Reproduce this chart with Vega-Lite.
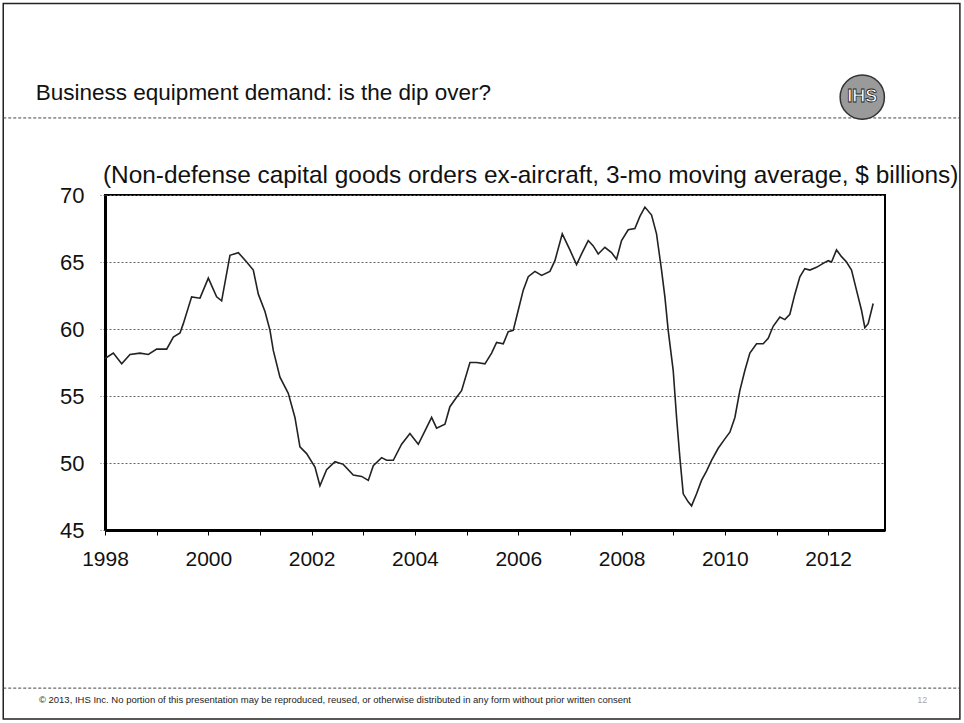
{
  "$schema": "https://vega.github.io/schema/vega-lite/v6.json",
  "width": 780,
  "height": 335,
  "autosize": {"type": "none"},
  "padding": {"left": 105, "top": 195, "right": 79, "bottom": 193},
  "background": "white",
  "config": {
    "view": {"stroke": "#000", "strokeWidth": 2},
    "font": "Liberation Sans"
  },
  "layer": [
    {
      "data": {"values": [{"part": "slide"}]},
      "mark": {"type": "rect", "fill": null, "stroke": "#222", "strokeWidth": 1.5},
      "encoding": {
        "x": {"datum": 1996.03, "type": "quantitative", "scale": {"domain": [1998, 2013.1], "nice": false, "zero": false}},
        "x2": {"datum": 2014.55},
        "y": {"datum": 84.3, "type": "quantitative"},
        "y2": {"datum": 30.9}
      }
    },
    {
      "data": {"values": [{"line": "header", "y": 75.75}, {"line": "footer", "y": 33.2}]},
      "mark": {"type": "rule", "stroke": "#444", "strokeWidth": 1, "strokeDash": [3, 2]},
      "encoding": {
        "x": {"datum": 1996.03, "type": "quantitative"},
        "x2": {"datum": 2014.55},
        "y": {"field": "y", "type": "quantitative"}
      }
    },
    {
      "data": {"values": [{"label": "Business equipment demand: is the dip over?"}]},
      "mark": {"type": "text", "align": "left", "baseline": "alphabetic", "font": "Liberation Sans", "fontSize": 22.5, "color": "#111"},
      "encoding": {
        "x": {"datum": 1996.66, "type": "quantitative"},
        "y": {"datum": 77.1, "type": "quantitative"},
        "text": {"field": "label"}
      }
    },
    {
      "data": {"values": [{"label": "(Non-defense capital goods orders ex-aircraft, 3-mo moving average, $ billions)"}]},
      "mark": {"type": "text", "align": "left", "baseline": "alphabetic", "font": "Liberation Sans", "fontSize": 24.4, "color": "#111"},
      "encoding": {
        "x": {"datum": 1997.96, "type": "quantitative"},
        "y": {"datum": 70.9, "type": "quantitative"},
        "text": {"field": "label"}
      }
    },
    {
      "data": {"values": [{"logo": "IHS"}]},
      "mark": {"type": "point", "shape": "circle", "filled": true, "size": 1960, "fill": "#9a9a9a", "stroke": "#333", "strokeWidth": 1.5, "opacity": 1},
      "encoding": {
        "x": {"datum": 2012.66, "type": "quantitative"},
        "y": {"datum": 77.3, "type": "quantitative"}
      }
    },
    {
      "data": {"values": [{"logo": "IHS"}]},
      "mark": {"type": "text", "align": "center", "baseline": "middle", "font": "Liberation Sans", "fontSize": 18, "fontWeight": "bold", "fill": "white", "stroke": "#222", "strokeWidth": 0.8},
      "encoding": {
        "x": {"datum": 2012.66, "type": "quantitative"},
        "y": {"datum": 77.3, "type": "quantitative"},
        "text": {"field": "logo"}
      }
    },
    {
      "data": {"values": [{"label": "© 2013, IHS Inc. No portion of this presentation may be reproduced, reused, or otherwise distributed in any form without prior written consent"}]},
      "mark": {"type": "text", "align": "left", "baseline": "middle", "fontSize": 9.5, "color": "#222"},
      "encoding": {
        "x": {"datum": 1996.72, "type": "quantitative"},
        "y": {"datum": 32.3, "type": "quantitative"},
        "text": {"field": "label"}
      }
    },
    {
      "data": {"values": [{"label": "12"}]},
      "mark": {"type": "text", "align": "center", "baseline": "middle", "fontSize": 9, "color": "#aaa"},
      "encoding": {
        "x": {"datum": 2013.82, "type": "quantitative"},
        "y": {"datum": 32.3, "type": "quantitative"},
        "text": {"field": "label"}
      }
    },
    {
      "data": {"values": [
        {"t": 1998.000, "v": 57.8}, {"t": 1998.161, "v": 58.2}, {"t": 1998.323, "v": 57.4}, {"t": 1998.484, "v": 58.1},
        {"t": 1998.677, "v": 58.2}, {"t": 1998.839, "v": 58.1}, {"t": 1999.000, "v": 58.5}, {"t": 1999.194, "v": 58.5},
        {"t": 1999.323, "v": 59.4}, {"t": 1999.452, "v": 59.7}, {"t": 1999.516, "v": 60.4}, {"t": 1999.677, "v": 62.4},
        {"t": 1999.839, "v": 62.3}, {"t": 2000.000, "v": 63.8}, {"t": 2000.161, "v": 62.4}, {"t": 2000.258, "v": 62.1},
        {"t": 2000.419, "v": 65.5}, {"t": 2000.581, "v": 65.7}, {"t": 2000.742, "v": 65.0}, {"t": 2000.871, "v": 64.4},
        {"t": 2000.968, "v": 62.6}, {"t": 2001.097, "v": 61.3}, {"t": 2001.194, "v": 59.9}, {"t": 2001.258, "v": 58.4},
        {"t": 2001.387, "v": 56.4}, {"t": 2001.548, "v": 55.2}, {"t": 2001.677, "v": 53.4}, {"t": 2001.774, "v": 51.2},
        {"t": 2001.903, "v": 50.7}, {"t": 2002.065, "v": 49.7}, {"t": 2002.161, "v": 48.3}, {"t": 2002.290, "v": 49.5},
        {"t": 2002.452, "v": 50.1}, {"t": 2002.613, "v": 49.9}, {"t": 2002.806, "v": 49.1}, {"t": 2002.968, "v": 49.0},
        {"t": 2003.097, "v": 48.7}, {"t": 2003.194, "v": 49.8}, {"t": 2003.355, "v": 50.4}, {"t": 2003.452, "v": 50.2},
        {"t": 2003.581, "v": 50.2}, {"t": 2003.742, "v": 51.4}, {"t": 2003.903, "v": 52.2}, {"t": 2004.065, "v": 51.4},
        {"t": 2004.194, "v": 52.4}, {"t": 2004.323, "v": 53.4}, {"t": 2004.419, "v": 52.6}, {"t": 2004.581, "v": 52.9},
        {"t": 2004.677, "v": 54.2}, {"t": 2004.806, "v": 54.9}, {"t": 2004.903, "v": 55.4}, {"t": 2005.065, "v": 57.5},
        {"t": 2005.194, "v": 57.5}, {"t": 2005.355, "v": 57.4}, {"t": 2005.484, "v": 58.2}, {"t": 2005.581, "v": 59.0},
        {"t": 2005.710, "v": 58.9}, {"t": 2005.806, "v": 59.8}, {"t": 2005.903, "v": 59.9}, {"t": 2006.000, "v": 61.4},
        {"t": 2006.097, "v": 62.9}, {"t": 2006.194, "v": 63.9}, {"t": 2006.323, "v": 64.3}, {"t": 2006.452, "v": 64.0},
        {"t": 2006.613, "v": 64.3}, {"t": 2006.710, "v": 65.1}, {"t": 2006.852, "v": 67.1}, {"t": 2007.000, "v": 65.9},
        {"t": 2007.129, "v": 64.8}, {"t": 2007.226, "v": 65.6}, {"t": 2007.355, "v": 66.6}, {"t": 2007.452, "v": 66.2},
        {"t": 2007.548, "v": 65.6}, {"t": 2007.677, "v": 66.1}, {"t": 2007.806, "v": 65.7}, {"t": 2007.903, "v": 65.2},
        {"t": 2008.000, "v": 66.6}, {"t": 2008.129, "v": 67.4}, {"t": 2008.258, "v": 67.5}, {"t": 2008.355, "v": 68.4},
        {"t": 2008.452, "v": 69.1}, {"t": 2008.581, "v": 68.5}, {"t": 2008.677, "v": 67.1}, {"t": 2008.774, "v": 64.4},
        {"t": 2008.839, "v": 62.4}, {"t": 2008.903, "v": 59.9}, {"t": 2009.000, "v": 56.9}, {"t": 2009.065, "v": 53.4},
        {"t": 2009.129, "v": 50.4}, {"t": 2009.194, "v": 47.7}, {"t": 2009.290, "v": 47.1}, {"t": 2009.355, "v": 46.8},
        {"t": 2009.452, "v": 47.7}, {"t": 2009.548, "v": 48.7}, {"t": 2009.645, "v": 49.4}, {"t": 2009.742, "v": 50.2},
        {"t": 2009.871, "v": 51.1}, {"t": 2010.000, "v": 51.8}, {"t": 2010.097, "v": 52.3}, {"t": 2010.194, "v": 53.4},
        {"t": 2010.290, "v": 55.4}, {"t": 2010.387, "v": 56.9}, {"t": 2010.484, "v": 58.2}, {"t": 2010.613, "v": 58.9},
        {"t": 2010.742, "v": 58.9}, {"t": 2010.839, "v": 59.3}, {"t": 2010.935, "v": 60.2}, {"t": 2011.065, "v": 60.9},
        {"t": 2011.161, "v": 60.7}, {"t": 2011.258, "v": 61.1}, {"t": 2011.355, "v": 62.6}, {"t": 2011.452, "v": 63.9},
        {"t": 2011.548, "v": 64.5}, {"t": 2011.645, "v": 64.4}, {"t": 2011.774, "v": 64.6}, {"t": 2011.903, "v": 64.9},
        {"t": 2012.000, "v": 65.1}, {"t": 2012.065, "v": 65.0}, {"t": 2012.161, "v": 65.9}, {"t": 2012.258, "v": 65.4},
        {"t": 2012.355, "v": 65.0}, {"t": 2012.452, "v": 64.4}, {"t": 2012.548, "v": 62.9}, {"t": 2012.645, "v": 61.4},
        {"t": 2012.710, "v": 60.1}, {"t": 2012.774, "v": 60.4}, {"t": 2012.871, "v": 61.9}
      ]},
      "mark": {"type": "line", "stroke": "#222", "strokeWidth": 1.6, "interpolate": "linear"},
      "encoding": {
        "x": {
          "field": "t", "type": "quantitative",
          "scale": {"domain": [1998, 2013.1], "nice": false, "zero": false},
          "axis": {
            "title": null,
            "values": [1998, 1999, 2000, 2001, 2002, 2003, 2004, 2005, 2006, 2007, 2008, 2009, 2010, 2011, 2012],
            "format": "d",
            "labelExpr": "datum.value % 2 === 0 ? datum.label : ''",
            "labelFont": "Liberation Sans",
            "labelFontSize": 21,
            "labelColor": "#111",
            "labelPadding": 13,
            "labelFlush": false,
            "tickColor": "#000",
            "tickSize": 5,
            "tickWidth": 1,
            "domainColor": "#000",
            "domainWidth": 3,
            "grid": false
          }
        },
        "y": {
          "field": "v", "type": "quantitative",
          "scale": {"domain": [45, 70], "nice": false, "zero": false},
          "axis": {
            "title": null,
            "values": [45, 50, 55, 60, 65, 70],
            "labelFont": "Liberation Sans",
            "labelFontSize": 22,
            "labelColor": "#111",
            "labelPadding": 16,
            "tickColor": "#666",
            "tickSize": 5,
            "tickDash": [2, 2],
            "domainColor": "#000",
            "domainWidth": 3,
            "grid": true,
            "gridColor": "#666",
            "gridDash": [2, 2],
            "gridWidth": 1
          }
        }
      }
    }
  ]
}
